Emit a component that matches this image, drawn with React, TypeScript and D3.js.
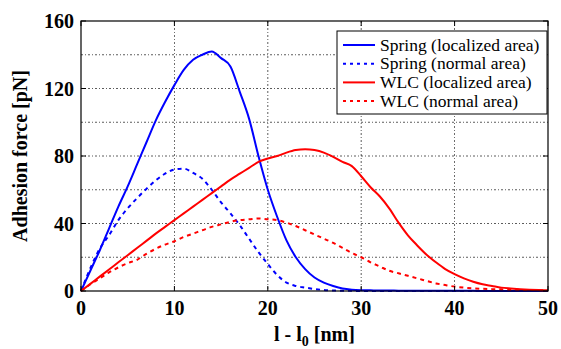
import React from "react";
import * as d3 from "d3";

const xs = [0,1,2,3,4,5,6,7,8,9,10,11,12,13,14,15,16,17,18,19,20,21,22,23,24,25,26,27,28,29,30,31,32,33,34,35,36,37,38,39,40,41,42,43,44,45,46,47,48,49,50];

const springLocalized = [0,12,24,37,50,62,75,88,101,112,122,131,137,140,142,138,133,118,102,80,60,44,30,20,13,8,5,3,1.5,0.8,0.5,0.4,0.3,0.3,0.2,0.2,0.2,0.1,0.1,0.1,0.1,0.1,0.1,0,0,0,0,0,0,0,0];
const springNormal = [0,13.5,25,33,42,49,55,60.5,65.5,69.5,72,72.5,70,66.5,60,52.5,46,39,31,23,16,9.5,5,3,2,1.2,0.6,0.3,0.1,0.1,0,0,0,0,0,0,0,0,0,0,0,0,0,0,0,0,0,0,0,0,0];
const wlcLocalized = [0,4.2,8.5,12.7,17,21.2,25.5,29.7,34,38,42,46,50,54,58,62,66,69.5,73,76.5,78.5,80,82,83.5,84,83.5,82,79.5,76.5,74,68,61.5,56,49,40.5,33,27,21.5,17,13,10,7.5,5.5,4,3,2,1.5,1.1,0.8,0.6,0.4];
const wlcNormal = [0,4,7.5,11,14,16.5,18.5,22,25,27.5,29.5,32,34,36,38,39.5,41,42,42.5,43,42.5,42,40.5,38.5,36,33.5,31,28.5,25.5,22.5,20,17,14.5,12,10.5,9,7.5,6,4.5,3.5,2.6,2,1.6,1.3,1.1,1,0.8,0.7,0.6,0.5,0.5];

const xTicks = [0,10,20,30,40,50];
const yTicks = [0,40,80,120,160];
const yGrid = [20,40,60,80,100,120,140];
const xGrid = [10,20,30,40];

const seriesNames = ["Spring (localized area)","Spring (normal area)","WLC (localized area)","WLC (normal area)"];
const seriesColors = ["#0000ff","#0000ff","#ff0000","#ff0000"];
const seriesDashed = [false,true,false,true];
const seriesValues = [springLocalized, springNormal, wlcLocalized, wlcNormal];

const W = 561, H = 349;
const L = 81, R = 548, T = 21, B = 291;

export default function App() {
  const x = d3.scaleLinear().domain([0,50]).range([L,R]);
  const y = d3.scaleLinear().domain([0,160]).range([B,T]);
  const line = (vals: number[]) =>
    d3.line<number>().x((_, i) => x(xs[i])).y(v => y(v)).curve(d3.curveMonotoneX)(vals) || "";
  const font = "'Liberation Serif', 'Times New Roman', serif";
  return (
    <svg width={W} height={H} style={{position:"absolute",left:0,top:0,background:"#fff"}}>
      <rect x={0} y={0} width={W} height={H} fill="#fff" />
      {yGrid.map(v => (
        <line key={"yg"+v} x1={L} x2={R} y1={y(v)} y2={y(v)} stroke="#000" strokeWidth={0.8} strokeDasharray="2,2,1,2" opacity={0.8} />
      ))}
      {xGrid.map(v => (
        <line key={"xg"+v} x1={x(v)} x2={x(v)} y1={T} y2={B} stroke="#000" strokeWidth={0.8} strokeDasharray="2,2,1,2" opacity={0.8} />
      ))}
      {seriesValues.map((vals, i) => (
        <path key={"s"+i} d={line(vals)} fill="none" stroke={seriesColors[i]} strokeWidth={2}
          strokeDasharray={seriesDashed[i] ? "4,4" : undefined} />
      ))}
      <rect x={L} y={T} width={R-L} height={B-T} fill="none" stroke="#000" strokeWidth={1.2} />
      {xTicks.map(v => (
        <g key={"xt"+v}>
          <line x1={x(v)} x2={x(v)} y1={B} y2={B-5} stroke="#000" />
          <line x1={x(v)} x2={x(v)} y1={T} y2={T+5} stroke="#000" />
          <text x={x(v)} y={B+24} textAnchor="middle" fontFamily={font} fontWeight="bold" fontSize={20}>{v}</text>
        </g>
      ))}
      {yTicks.map(v => (
        <g key={"yt"+v}>
          <line x1={L} x2={L+5} y1={y(v)} y2={y(v)} stroke="#000" />
          <line x1={R} x2={R-5} y1={y(v)} y2={y(v)} stroke="#000" />
          <text x={L-7} y={y(v)+7} textAnchor="end" fontFamily={font} fontWeight="bold" fontSize={20}>{v}</text>
        </g>
      ))}
      <text x={(L+R)/2} y={341} textAnchor="middle" fontFamily={font} fontWeight="bold" fontSize={20}>
        l - l<tspan dy={5} fontSize={14}>0</tspan><tspan dy={-5}> [nm]</tspan>
      </text>
      <text transform={`translate(27,${(T+B)/2}) rotate(-90)`} textAnchor="middle" fontFamily={font} fontWeight="bold" fontSize={20}>
        Adhesion force [pN]
      </text>
      <g>
        <rect x={337} y={31} width={210} height={83} fill="#fff" stroke="#000" strokeWidth={1} />
        {seriesNames.map((name, i) => {
          const yy = 45 + i * 18.7;
          return (
            <g key={"lg"+i}>
              <line x1={343} x2={375} y1={yy} y2={yy} stroke={seriesColors[i]} strokeWidth={2}
                strokeDasharray={seriesDashed[i] ? "3,4" : undefined} />
              <text x={380} y={yy+5.5} fontFamily={font} fontSize={17.5}>{name}</text>
            </g>
          );
        })}
      </g>
    </svg>
  );
}
